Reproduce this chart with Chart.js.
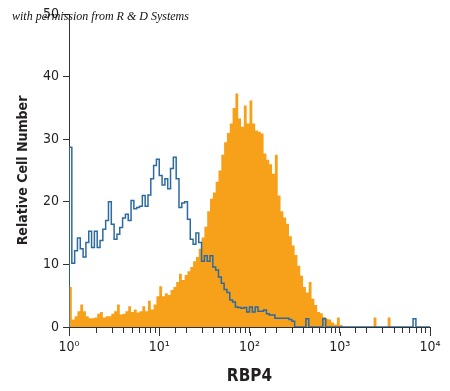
<!DOCTYPE html>
<html>
<head>
<meta charset="utf-8">
<script src="https://cdn.jsdelivr.net/npm/chart.js@4"></script>
<style>
  html, body { margin: 0; padding: 0; background: #fff; }
  #wrap { width: 450px; height: 391px; }
</style>
</head>
<body>
<div id="wrap"><canvas id="histChart" width="450" height="391"></canvas></div>
<script>
// 128 log channels over 4 decades (10^0 .. 10^4)
const BINS_PER_DECADE = 32;
const xTickLabels = ['10\u2070', '10\u00b9', '10\u00b2', '10\u00b3', '10\u2074'];
const yTickValues = [0, 10, 20, 30, 40, 50];

// isotype control (blue outline)
const controlCounts = [
  28.7, 10.2, 12.2, 14.2, 12.5, 11.2, 13.5, 15.3, 12.7, 15.3,
  12.7, 13.8, 15.6, 17.0, 20.0, 16.4, 14.0, 14.8, 15.9, 17.4,
  18.0, 17.0, 20.2, 18.9, 19.1, 19.3, 21.0, 19.3, 21.1, 23.7,
  25.8, 26.8, 24.2, 22.7, 23.7, 22.1, 25.3, 27.1, 23.7, 19.1,
  19.8, 20.0, 17.2, 14.0, 13.2, 15.0, 13.5, 10.5, 11.4, 10.5,
  11.4, 9.6, 9.1, 8.0, 7.0, 6.0, 5.5, 4.3, 4.0, 3.2,
  3.1, 3.0, 3.1, 2.4, 3.2, 2.4, 3.2, 2.5, 2.5, 2.7,
  2.1, 1.9, 1.9, 1.4, 1.4, 1.4, 1.4, 1.4, 1.2, 0.9,
  0, 0, 0, 0, 1.3, 0, 0, 0, 0, 0,
  1.3, 0, 0, 0, 0, 0, 0, 0, 0, 0,
  0, 0, 0, 0, 0, 0, 0, 0, 0, 0,
  0, 0, 0, 0, 0, 0, 0, 0, 0, 0,
  0, 0, 1.3, 0, 0, 0, 0, 0
];

// RBP4 stained cells (orange filled)
const rbp4Counts = [
  6.4, 1.2, 1.7, 2.5, 3.6, 2.5, 1.7, 1.4, 1.4, 1.5,
  2.1, 2.4, 1.5, 1.7, 1.7, 2.1, 2.5, 3.6, 2.0, 2.1,
  2.5, 3.3, 2.4, 2.8, 2.3, 2.5, 3.3, 2.5, 4.2, 2.8,
  3.6, 4.9, 6.5, 4.9, 5.4, 5.1, 5.9, 6.4, 7.2, 8.5,
  7.5, 8.3, 8.9, 9.6, 10.5, 11.2, 12.5, 14.3, 16.0, 18.5,
  20.5, 21.5, 23.2, 25.0, 27.5, 29.5, 31.0, 32.5, 35.0, 37.3,
  33.3, 32.0, 35.4, 32.5, 36.2, 32.5, 31.4, 31.2, 30.9, 27.7,
  26.7, 26.0, 24.5, 27.5, 21.0, 18.5, 17.5, 16.5, 14.5, 13.0,
  11.5, 9.8, 8.2, 6.4, 5.5, 7.2, 4.5, 3.5, 2.4, 2.2,
  1.6, 1.3, 1.2, 0.7, 0.4, 1.5, 0.3, 0, 0, 0,
  0, 0, 0, 0, 0, 0, 0, 0, 1.5, 0,
  0, 0, 0, 1.5, 0, 0, 0, 0, 0, 0,
  0, 0, 0, 0, 0, 0, 0, 0
];

const ORANGE = '#f7a11a';
const BLUE = '#2d6aa0';
const INK = '#231f20';
const NARROW = "'Liberation Sans Narrow', 'DejaVu Sans Condensed', 'Open Sans', sans-serif";

// turn channel counts into step points on the log axis
function toSteps(counts, startAtZero) {
    const pts = [];
    if (startAtZero) pts.push({ x: 1, y: 0 });
    counts.forEach((v, i) => {
        pts.push({ x: Math.pow(10, i / BINS_PER_DECADE), y: v });
    });
    pts.push({ x: 1e4, y: counts[counts.length - 1] });
    return pts;
}

function isDecade(value) {
    const p = Math.round(Math.log10(value));
    return Math.abs(Math.pow(10, p) - value) < 1e-6 ? p : -1;
}

// watermark line at the top left + slightly longer decade ticks
const extras = {
    id: 'extras',
    afterDraw(chart) {
        const ctx = chart.ctx;
        const xs = chart.scales.x;
        ctx.save();
        ctx.strokeStyle = '#333';
        ctx.lineWidth = 1;
        xs.ticks.forEach(t => {
            if (isDecade(t.value) < 0) return;
            const px = Math.round(xs.getPixelForValue(t.value)) + 0.5;
            ctx.beginPath();
            ctx.moveTo(px, xs.top + 5);
            ctx.lineTo(px, xs.top + 9);
            ctx.stroke();
        });
        ctx.font = "italic 12px 'Liberation Serif', 'DejaVu Serif', serif";
        ctx.fillStyle = '#111';
        ctx.textBaseline = 'alphabetic';
        ctx.fillText('with permission from R & D Systems', 12, 20);
        ctx.restore();
    }
};

const ctx = document.getElementById('histChart').getContext('2d');
const chart = new Chart(ctx, {
    type: 'line',
    data: {
        datasets: [{
            label: 'Control',
            data: toSteps(controlCounts, true),
            borderColor: BLUE,
            borderWidth: 1.5,
            stepped: true,
            fill: false,
            pointRadius: 0
        }, {
            label: 'RBP4',
            data: toSteps(rbp4Counts, false),
            borderColor: ORANGE,
            backgroundColor: ORANGE,
            borderWidth: 0,
            stepped: true,
            fill: 'origin',
            pointRadius: 0
        }]
    },
    options: {
        responsive: false,
        animation: false,
        layout: { padding: { left: 0, right: 20, top: 14, bottom: 0 } },
        plugins: {
            legend: { display: false },
            tooltip: { enabled: false }
        },
        scales: {
            x: {
                type: 'logarithmic',
                min: 1,
                max: 10000,
                afterFit: s => { s.height = 64; },
                grid: { drawOnChartArea: false, drawTicks: true, tickLength: 6, color: '#333', lineWidth: 1 },
                border: { display: true, color: '#333', width: 1 },
                ticks: {
                    autoSkip: false,
                    maxRotation: 0,
                    padding: 6,
                    color: INK,
                    font: { family: NARROW, size: 14 },
                    callback: function(value) {
                        const p = isDecade(value);
                        return p >= 0 ? xTickLabels[p] : '';
                    }
                },
                title: {
                    display: true,
                    text: 'RBP4',
                    color: INK,
                    font: { family: NARROW, size: 17, weight: 'bold' },
                    padding: { top: 0, bottom: 4 }
                }
            },
            y: {
                min: 0,
                max: 50,
                afterFit: s => { s.width = 69; },
                afterBuildTicks: s => { s.ticks = yTickValues.map(v => ({ value: v })); },
                grid: { drawOnChartArea: false, drawTicks: true, tickLength: 6, color: '#333', lineWidth: 1 },
                border: { display: true, color: '#333', width: 1 },
                ticks: {
                    padding: 4,
                    color: INK,
                    font: { family: NARROW, size: 14 }
                },
                title: {
                    display: true,
                    text: 'Relative Cell Number',
                    color: INK,
                    font: { family: NARROW, size: 14, weight: 'bold' },
                    padding: { top: 15, bottom: 0 }
                }
            }
        }
    },
    plugins: [extras]
});
</script>
</body>
</html>
